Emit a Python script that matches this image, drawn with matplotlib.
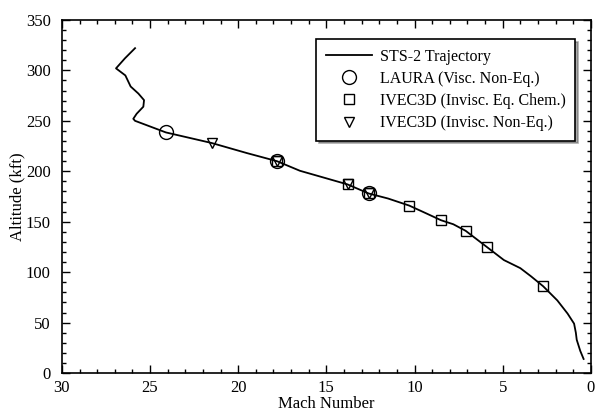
import numpy as np
import matplotlib
matplotlib.use('Agg')
import matplotlib.pyplot as plt
from matplotlib.ticker import MultipleLocator

# STS-2 trajectory
traj_mach = [25.85, 26.42, 26.93, 26.4, 26.1, 25.66, 25.34, 25.38, 25.76, 25.95, 25.85,
             24.1, 21.5, 19.5, 17.8, 16.5, 15.0, 13.8, 12.6, 11.5, 10.3, 9.3, 8.5, 7.8,
             7.1, 5.9, 4.93, 4.0, 3.4, 2.7, 1.9, 1.32, 0.95, 0.85, 0.80, 0.6, 0.41]
traj_alt = [322, 312, 302, 295, 284, 277, 270.5, 264, 257, 252, 250,
            238.5, 228, 218, 210, 200.5, 193, 187, 178, 173, 166, 158, 151.5, 147.5,
            141, 125, 112, 104, 96, 86, 72, 59, 49, 40, 33, 22, 14]

laura_mach = [24.1, 17.8, 12.6]
laura_alt = [238.5, 210, 178]

eq_mach = [17.8, 13.8, 12.6, 10.3, 8.5, 7.1, 5.9, 2.7]
eq_alt = [210, 187, 178, 166, 151.5, 141, 125, 86]

neq_mach = [21.5, 17.8, 13.8, 12.6]
neq_alt = [228, 210, 187, 178]

plt.rcParams['font.family'] = ['Liberation Serif', 'DejaVu Serif']

fig = plt.figure(figsize=(5.95, 4.15), dpi=100)
ax = fig.add_axes([0.104, 0.101, 0.889, 0.851])

ax.plot(traj_mach, traj_alt, 'k-', lw=1.3, label='STS-2 Trajectory')
ax.plot(laura_mach, laura_alt, 'o', mfc='none', mec='k', mew=1.0, ms=10,
        label='LAURA (Visc. Non-Eq.)')
ax.plot(eq_mach, eq_alt, 's', mfc='none', mec='k', mew=1.0, ms=7,
        label='IVEC3D (Invisc. Eq. Chem.)')
ax.plot(neq_mach, neq_alt, 'v', mfc='none', mec='k', mew=1.0, ms=7,
        label='IVEC3D (Invisc. Non-Eq.)')

ax.set_xlim(30, 0)
ax.set_ylim(0, 350)
ax.xaxis.set_major_locator(MultipleLocator(5))
ax.xaxis.set_minor_locator(MultipleLocator(1))
ax.yaxis.set_major_locator(MultipleLocator(50))
ax.yaxis.set_minor_locator(MultipleLocator(10))
ax.tick_params(which='both', direction='in', top=True, right=True, labelsize=12)
ax.tick_params(which='major', length=6, width=1)
ax.tick_params(which='minor', length=3, width=1)
ax.tick_params(axis='x', which='major', pad=5)
ax.tick_params(axis='y', which='major', pad=8)
for s in ax.spines.values():
    s.set_linewidth(1.2)

ax.set_xlabel('Mach Number', fontsize=12, labelpad=0)
ax.set_ylabel('Altitude (kft)', fontsize=12, labelpad=0)

leg = ax.legend(loc='upper right', bbox_to_anchor=(0.97, 0.945), borderaxespad=0,
                fontsize=11.5, frameon=True, fancybox=False, edgecolor='k',
                shadow={'color': '0.35'}, handlelength=2.9, handletextpad=0.45,
                labelspacing=0.38, borderpad=0.6)
leg.get_frame().set_linewidth(1.2)

fig.savefig('out.png', dpi=100)
